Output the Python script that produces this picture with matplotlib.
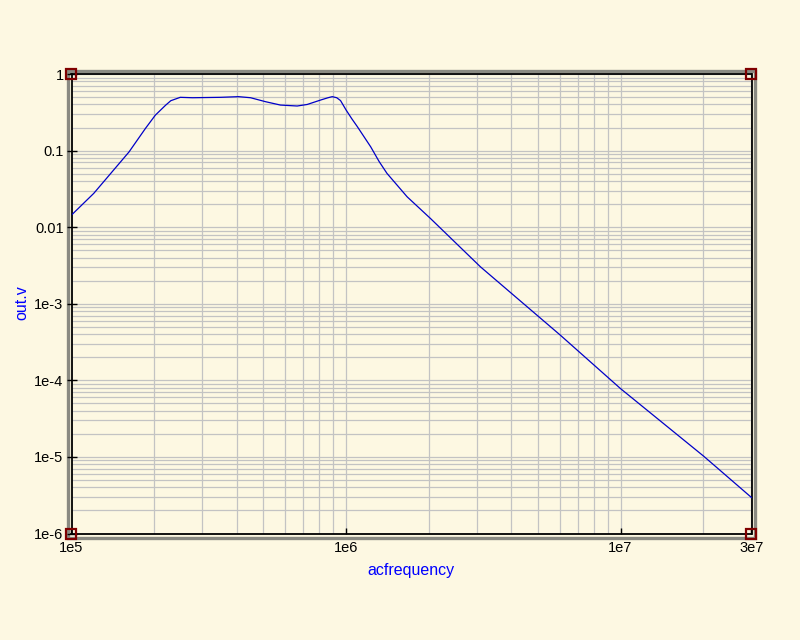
import matplotlib

matplotlib.use("Agg")
import matplotlib.pyplot as plt
from matplotlib.patches import Rectangle
from matplotlib.ticker import FixedLocator, LogLocator, NullFormatter

# AC sweep (Hz, volts)
freq = [1.0e5, 1.205e5, 1.62e5, 1.86e5, 2.02e5, 2.2e5, 2.3e5, 2.49e5, 2.76e5,
        3.49e5, 4.06e5, 4.49e5, 5.09e5, 5.77e5, 6.64e5, 7.22e5, 8.08e5, 8.6e5,
        8.91e5, 9.25e5, 9.55e5, 1.0e6, 1.05e6, 1.10e6, 1.23e6, 1.32e6, 1.41e6,
        1.67e6, 2.03e6, 3.09e6, 6.04e6, 1.0e7, 2.01e7, 3.0e7]
out_v = [0.0144, 0.0276, 0.096, 0.195, 0.29, 0.39, 0.448, 0.496, 0.49,
         0.496, 0.506, 0.49, 0.435, 0.393, 0.382, 0.40, 0.457, 0.49,
         0.506, 0.49, 0.45, 0.34, 0.26, 0.205, 0.112, 0.072, 0.0504,
         0.0249, 0.0130, 3.03e-3, 3.88e-4, 7.8e-5, 1.02e-5, 2.95e-6]

x_ticks = [1e5, 1e6, 1e7, 3e7]
x_labels = ["1e5", "1e6", "1e7", "3e7"]
y_ticks = [1e-6, 1e-5, 1e-4, 1e-3, 1e-2, 1e-1, 1]
y_labels = ["1e-6", "1e-5", "1e-4", "1e-3", "0.01", "0.1", "1"]

BG = "#fdf8e2"
W, H = 800, 640
plt.rcParams["font.family"] = ["Liberation Sans", "DejaVu Sans"]

fig = plt.figure(figsize=(8, 6.4), dpi=100, facecolor=BG)
x0, x1, y0, y1 = 71.5, 751.5, 74, 533.5  # plot box in pixels
ax = fig.add_axes([x0 / W, 1 - y1 / H, (x1 - x0) / W, (y1 - y0) / H], facecolor=BG)

# grey 3d-ish frame round the plot box
fig.add_artist(Rectangle((68 / W, 1 - 537.5 / H), (755 - 68) / W, (537.5 - 70.5) / H,
                         transform=fig.transFigure, fill=False, ec="#8a8a82", lw=2.4, zorder=0))

ax.plot(freq, out_v, color="#0000c8", lw=0.9, zorder=3)
ax.set_xscale("log")
ax.set_yscale("log")
ax.set_xlim(1e5, 3e7)
ax.set_ylim(1e-6, 1)

ax.xaxis.set_major_locator(FixedLocator(x_ticks))
ax.set_xticklabels(x_labels)
ax.yaxis.set_major_locator(FixedLocator(y_ticks))
ax.set_yticklabels(y_labels)
for a in (ax.xaxis, ax.yaxis):
    a.set_minor_locator(LogLocator(base=10, subs=range(2, 10), numticks=20))
    a.set_minor_formatter(NullFormatter())

ax.grid(True, which="both", color="#c3c3c3", lw=0.9, zorder=1)
ax.set_axisbelow(True)
ax.tick_params(which="minor", length=0)
ax.tick_params(axis="x", which="major", direction="in", length=4, width=1.0,
               pad=5.5, labelsize=10.5, color="black")
ax.tick_params(axis="y", which="major", direction="inout", length=6.5, width=1.0,
               pad=2.5, labelsize=10.5, color="black")
for s in ax.spines.values():
    s.set_color("black")
    s.set_linewidth(1.3)

# corner markers
ax.plot([1e5, 3e7, 1e5, 3e7], [1, 1, 1e-6, 1e-6], "s", ms=7.5, mfc="none",
        mec="#800000", mew=1.6, clip_on=False, zorder=5)

fig.text(411 / W, 1 - 570 / H, "acfrequency", ha="center", va="center",
         color="#0000ff", fontsize=11.5)
fig.text(21.5 / W, 1 - 303 / H, "out.v", ha="center", va="center",
         rotation=90, color="#0000ff", fontsize=11.5)

fig.savefig("out.png", dpi=100, facecolor=BG)
